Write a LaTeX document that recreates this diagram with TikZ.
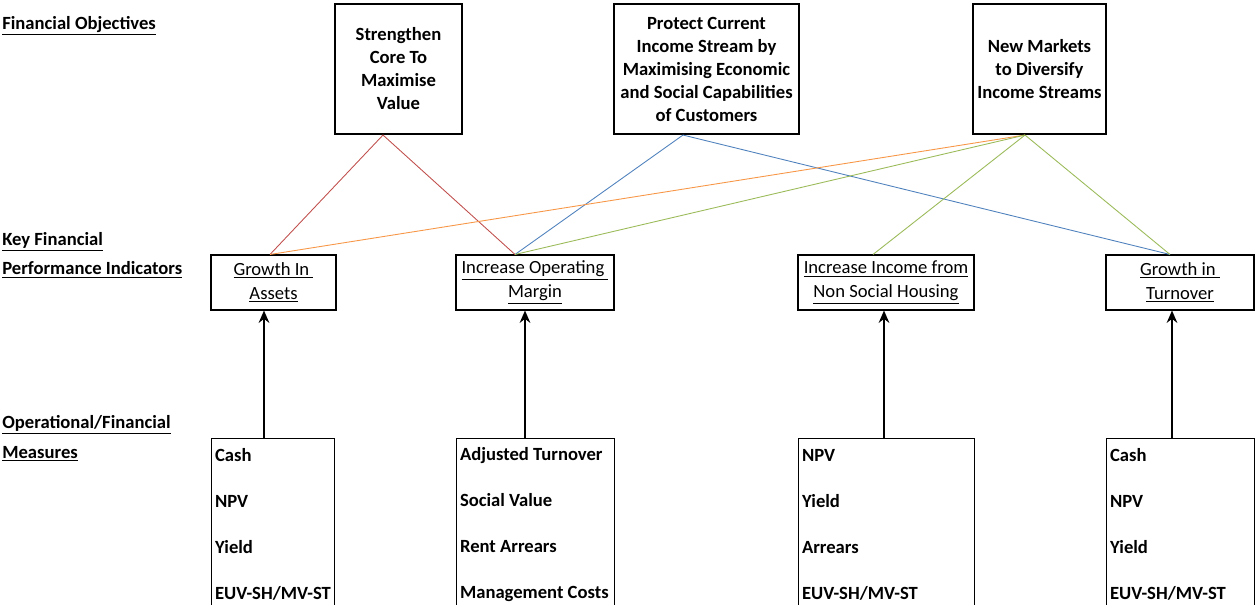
\documentclass[tikz,border=0pt]{standalone}
\usepackage{fontspec}
\setmainfont{Carlito}
\usetikzlibrary{arrows.meta}
\definecolor{redline}{RGB}{192,80,77}
\definecolor{blueline}{RGB}{79,129,189}
\definecolor{orangeline}{RGB}{247,150,70}
\definecolor{greenline}{RGB}{155,187,89}
\tikzset{
  objbox/.style={draw,line width=1.2pt,align=center,inner sep=0pt,
    font=\bfseries\fontsize{10.6}{13.1}\selectfont},
  kpibox/.style={draw,line width=0.6pt,align=center,inner sep=0pt,
    minimum height=1.1cm,font=\fontsize{10.6}{13.6}\selectfont},
  measbox/.style={draw,line width=0.6pt,align=flush left,anchor=north west,
    inner xsep=2pt,inner ysep=5pt,minimum height=3.45cm,
    font=\bfseries\fontsize{10.6}{26.2}\selectfont},
  heading/.style={anchor=west,inner sep=0pt,font=\bfseries\fontsize{10.6}{13}\selectfont},
  link/.style={line width=0.5pt},
  push/.style={line width=1.6pt,-{Stealth[length=7pt,width=6pt]}}
}
\begin{document}
\begin{tikzpicture}[x=0.02cm,y=-0.02cm]
      \useasboundingbox (0,0) rectangle (1255,605);
      % row headings
      \node[heading] (hobj) at (2,26) {\underline{Financial Objectives}};
      \node[heading] (hkpi1) at (2,242) {\underline{Key Financial}};
      \node[heading] (hkpi2) at (2,270) {\underline{Performance Indicators}};
      \node[heading] (hmeas1) at (2,425) {\underline{Operational/Financial}};
      \node[heading] (hmeas2) at (2,454) {\underline{Measures}};
      % objectives
      \node[objbox,minimum width=2.54cm,minimum height=2.6cm] (core) at (398.5,69)
        {Strengthen\\Core To\\Maximise\\Value};
      \node[objbox,minimum width=3.7cm,minimum height=2.6cm] (protect) at (706.5,69)
        {Protect Current\\Income Stream by\\Maximising Economic\\and Social Capabilities\\of Customers};
      \node[objbox,minimum width=2.66cm,minimum height=2.6cm] (markets) at (1039.5,69)
        {New Markets\\to Diversify\\Income Streams};
      % key performance indicators
      \node[kpibox,minimum width=2.5cm] (assets) at (273.5,282.5)
        {\underline{Growth In\ }\\\underline{Assets}};
      \node[kpibox,minimum width=3.16cm] (margin) at (535,282.5)
        {\underline{Increase Operating\ }\\\underline{Margin}};
      \node[kpibox,minimum width=3.52cm] (nonsocial) at (886,282.5)
        {\underline{Increase Income from}\\\underline{Non Social Housing}};
      \node[kpibox,minimum width=2.96cm] (turnover) at (1180,282.5)
        {\underline{Growth in\ }\\\underline{Turnover}};
      % measures
      \node[measbox,text width=2.32cm] (measA) at (211,438)
        {Cash\\NPV\\Yield\\EUV-SH/MV-ST};
      \node[measbox,text width=3.02cm] (measB) at (456,438)
        {Adjusted Turnover\\Social Value\\Rent Arrears\\Management Costs};
      \node[measbox,text width=3.38cm] (measC) at (798,438)
        {NPV\\Yield\\Arrears\\EUV-SH/MV-ST};
      \node[measbox,text width=2.82cm] (measD) at (1106,438)
        {Cash\\NPV\\Yield\\EUV-SH/MV-ST};
      % objective to indicator links
      \draw[link,redline] (assets.north -| 270,0) -- (core.south -| 383,0) -- (margin.north -| 515,0);
      \draw[link,blueline] (margin.north -| 515,0) -- (protect.south -| 683,0) -- (turnover.north -| 1170,0);
      \draw[link,orangeline] (assets.north -| 270,0) -- (markets.south -| 1025,0);
      \foreach \k/\x in {margin/515, nonsocial/873, turnover/1170}
        \draw[link,greenline] (markets.south -| 1025,0) -- (\k.north -| \x,0);
      % measures feed indicators
      \foreach \m/\k/\x in {measA/assets/264, measB/margin/525, measC/nonsocial/884, measD/turnover/1172}
        \draw[push] (\m.north -| \x,0) -- (\k.south -| \x,0);
    \end{tikzpicture}
\end{document}
